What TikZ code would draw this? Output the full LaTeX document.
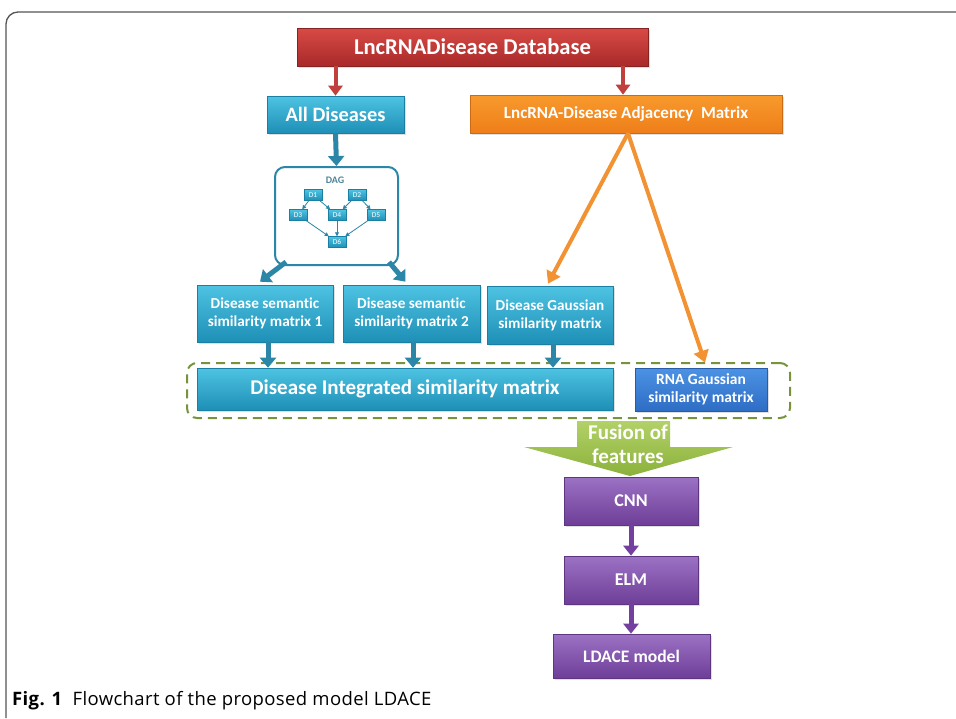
\documentclass[tikz,border=0pt]{standalone}
\usepackage{fontspec}
\setmainfont{Carlito}[Ligatures=NoCommon]
\newfontfamily\capfont{Open Sans}[LetterSpace=2]
\usetikzlibrary{arrows.meta,calc,shadows}
\definecolor{redT}{HTML}{D84A45}
\definecolor{redB}{HTML}{A82A2A}
\definecolor{cyT}{HTML}{4EC3E2}
\definecolor{cyB}{HTML}{1E8FB6}
\definecolor{cyD}{HTML}{1B7FA3}
\definecolor{orT}{HTML}{F89A2C}
\definecolor{orB}{HTML}{EE7E1A}
\definecolor{blT}{HTML}{4C92E4}
\definecolor{blB}{HTML}{2E6DC4}
\definecolor{puT}{HTML}{9C72C4}
\definecolor{puB}{HTML}{6E3E98}
\definecolor{grT}{HTML}{B2D168}
\definecolor{grB}{HTML}{8BB13A}
\definecolor{tealA}{HTML}{2B86A8}
\definecolor{redA}{HTML}{C0403E}
\definecolor{orA}{HTML}{F29233}
\definecolor{puA}{HTML}{7440A0}
\definecolor{dashG}{HTML}{77933C}
\definecolor{frameC}{HTML}{555555}
\tikzset{
  boxbase/.style={rectangle, text=white, font=\bfseries, align=center, inner sep=2pt,
    drop shadow={opacity=0.25, shadow xshift=1.5pt, shadow yshift=-1.5pt}},
  redbox/.style={boxbase, top color=redT, bottom color=redB, draw=redB!80!black, line width=0.6pt},
  cybox/.style={boxbase, top color=cyT, bottom color=cyB, draw=cyD, line width=0.6pt},
  orbox/.style={boxbase, top color=orT, bottom color=orB, draw=orB!85!black, line width=0.6pt},
  blbox/.style={boxbase, top color=blT, bottom color=blB, draw=blB!85!black, line width=0.6pt},
  pubox/.style={boxbase, top color=puT, bottom color=puB, draw=puB!85!black, line width=0.6pt},
  dbox/.style={rectangle, top color=cyT, bottom color=cyB, draw=cyD, line width=0.4pt, minimum width=18pt, minimum height=11pt, inner sep=0pt, text=white, font=\fontsize{7.5}{7.5}\selectfont},
  redarrow/.style={draw=redA, line width=4pt, -{Triangle[width=14pt,length=10pt]}},
  tealarrow/.style={draw=tealA, line width=5pt, -{Triangle[width=16pt,length=10pt]}},
  orarrow/.style={draw=orA, line width=4pt, -{Triangle[width=15pt,length=12pt]}},
  puarrow/.style={draw=puA, line width=5pt, -{Triangle[width=15pt,length=10pt]}},
  dagedge/.style={draw=tealA, line width=0.8pt, -{Triangle[width=4pt,length=4pt]}},
}
\begin{document}
\begin{tikzpicture}[x=1pt,y=-1pt]
\useasboundingbox (0,0) rectangle (956,718);
\fill[white] (0,0) rectangle (956,718);
% frame
\draw[frameC, line width=1.3pt, rounded corners=12pt] (6,718) -- (6,12) -- (956,12);

% top
\node[redbox, minimum width=351pt, minimum height=38pt, font=\bfseries\fontsize{22.6}{22.6}\selectfont] (db) at (472.5,47) {LncRNADisease Database};
\node[cybox, minimum width=137pt, minimum height=37pt, font=\bfseries\fontsize{20.4}{20.4}\selectfont] (all) at (335.5,114.5) {All Diseases};
\node[orbox, minimum width=312pt, minimum height=38pt, font=\bfseries\fontsize{17}{17}\selectfont] (adj) at (626,114) {LncRNA-Disease Adjacency~~Matrix};

\draw[redarrow] (all.north |- db.south) -- (all.north);
\draw[redarrow] ([xshift=-3pt]adj.north |- db.south) -- ([xshift=-3pt]adj.north);

% DAG
\node[draw=tealA, line width=2pt, rounded corners=10pt, fill=white, minimum width=123pt, minimum height=98pt] (dag) at (336.5,216) {};
\node[text=tealA!60!gray, font=\bfseries\fontsize{10}{10}\selectfont] (daglbl) at (335,180) {DAG};
\node[dbox] (d1) at (313,195) {D1};
\node[dbox] (d2) at (357,195) {D2};
\node[dbox] (d3) at (298,215) {D3};
\node[dbox] (d4) at (337,215) {D4};
\node[dbox] (d5) at (376,215) {D5};
\node[dbox] (d6) at (337,242) {D6};
\draw[dagedge] (d1) -- (d3);
\draw[dagedge] (d1) -- (d4);
\draw[dagedge] (d2) -- (d4);
\draw[dagedge] (d2) -- (d5);
\draw[dagedge] (d3) -- (d6);
\draw[dagedge] (d4) -- (d6);
\draw[dagedge] (d5) -- (d6);

\draw[tealarrow] (all.south) -- (dag.north);

% similarity boxes
\node[cybox, minimum width=136pt, minimum height=57pt, font=\bfseries\fontsize{15.2}{18}\selectfont] (s1) at (265,313.5) {Disease semantic\\similarity matrix 1};
\node[cybox, minimum width=137pt, minimum height=57pt, font=\bfseries\fontsize{15.2}{18}\selectfont] (s2) at (411.5,313.5) {Disease semantic\\similarity matrix 2};
\node[cybox, minimum width=126pt, minimum height=58pt, font=\bfseries\fontsize{15.2}{18}\selectfont] (gs) at (550,315) {Disease Gaussian\\similarity matrix};

\draw[tealarrow] ([shift={(12,-4)}]dag.south west) -- ([shift={(-5,-3)}]s1.north);
\draw[tealarrow] ([shift={(-10,-4)}]dag.south east) -- ([shift={(-6,-3)}]s2.north);

% integrated row
\node[draw=dashG, line width=2pt, dash pattern=on 9pt off 6pt, rounded corners=10pt, minimum width=603pt, minimum height=55pt] (dash) at (488.5,390.5) {};
\node[cybox, minimum width=416pt, minimum height=42pt, font=\bfseries\fontsize{21}{21}\selectfont] (integ) at (405,389) {Disease Integrated similarity matrix};
\node[blbox, minimum width=132pt, minimum height=43pt, font=\bfseries\fontsize{15.5}{18}\selectfont] (rna) at (701,389.5) {RNA Gaussian\\similarity matrix};

\draw[tealarrow] ([xshift=3pt]s1.south) -- ([xshift=3pt]s1.south |- integ.north);
\draw[tealarrow] ([xshift=1.5pt]s2.south) -- ([xshift=1.5pt]s2.south |- integ.north);
\draw[tealarrow] ([xshift=3pt]gs.south) -- ([xshift=3pt]gs.south |- integ.north);

\draw[orarrow] ([xshift=2pt]adj.south) -- ([shift={(-2,-2)}]gs.north);
\draw[orarrow] ([xshift=2pt]adj.south) -- ([shift={(4,-5)}]rna.north);

% fusion
\shade[top color=grT, bottom color=grB] (577,421) coordinate (fa) -- (670,421) -- (670,447) -- (733,447) -- (630,476) coordinate (fapex) -- (524,447) -- (577,447) -- cycle;
\node[text=white, font=\bfseries\fontsize{21}{24}\selectfont, align=center] (fusion) at (628,444) {Fusion of\\features};

% purple chain
\node[pubox, minimum width=134pt, minimum height=48pt, font=\bfseries\fontsize{18}{18}\selectfont] (cnn) at (631,501) {CNN};
\node[pubox, minimum width=134pt, minimum height=48pt, font=\bfseries\fontsize{18}{18}\selectfont] (elm) at (631,580) {ELM};
\node[pubox, minimum width=157pt, minimum height=44pt, font=\bfseries\fontsize{17.6}{17.6}\selectfont] (ldace) at (631.5,656) {LDACE model};
\draw[puarrow] (cnn.south) -- (elm.north);
\draw[puarrow] (elm.south) -- (elm.south |- ldace.north);

% caption
\node[anchor=base west, font=\capfont\fontsize{18.5}{18.5}\selectfont, inner sep=0pt] (cap) at (12,705) {\textbf{Fig. 1}\hspace{10pt}Flowchart of the proposed model LDACE};
\end{tikzpicture}
\end{document}
